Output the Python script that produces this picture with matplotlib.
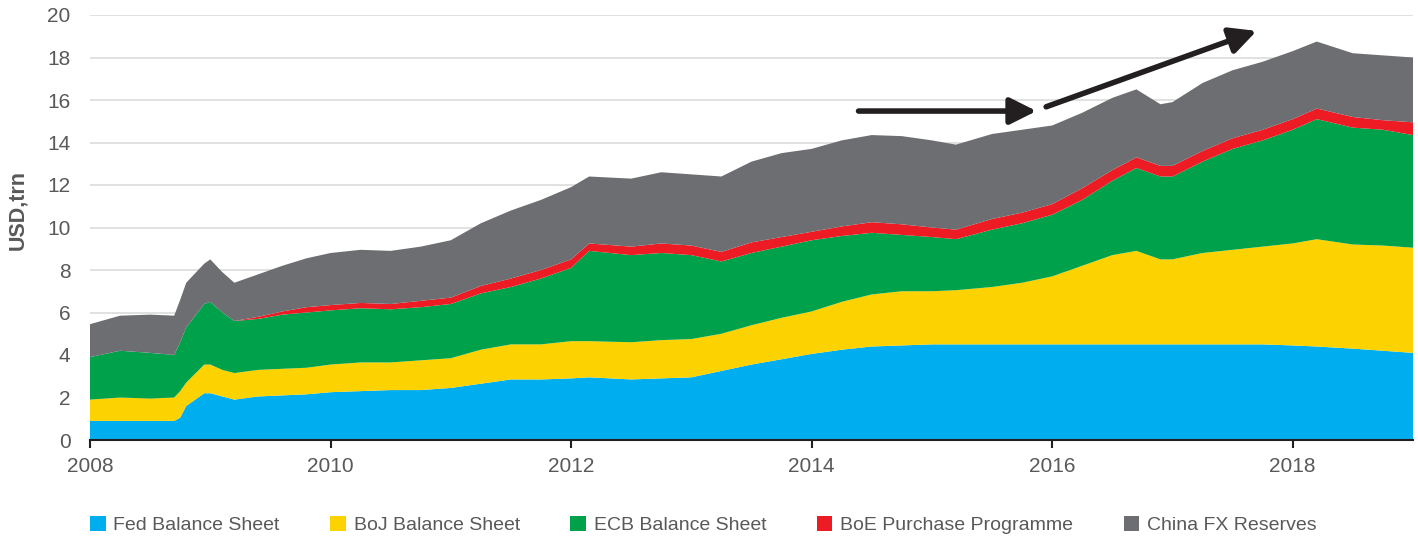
#!/usr/bin/env python

# plot.py - stacked central bank balance sheets + China FX reserves
import matplotlib
matplotlib.use("Agg")
import matplotlib.pyplot as plt
from matplotlib.patches import Patch

plt.rcParams["font.family"] = ["Liberation Sans", "DejaVu Sans"]

# Dates as decimal years, values in USD trn (each series on its own)
years = [2008.00, 2008.25, 2008.50, 2008.70, 2008.75, 2008.80, 2008.95, 2009.00,
         2009.10, 2009.20, 2009.40, 2009.60, 2009.80, 2010.00, 2010.25, 2010.50,
         2010.75, 2011.00, 2011.25, 2011.50, 2011.75, 2012.00, 2012.15, 2012.50,
         2012.75, 2013.00, 2013.25, 2013.50, 2013.75, 2014.00, 2014.25, 2014.50,
         2014.75, 2015.00, 2015.20, 2015.50, 2015.75, 2016.00, 2016.25, 2016.50,
         2016.70, 2016.90, 2017.00, 2017.25, 2017.50, 2017.75, 2018.00, 2018.20,
         2018.50, 2018.75, 2019.00]

fed = [0.90, 0.90, 0.90, 0.90, 1.05, 1.60, 2.20, 2.20,
       2.05, 1.90, 2.05, 2.10, 2.15, 2.25, 2.30, 2.35,
       2.35, 2.45, 2.65, 2.85, 2.85, 2.90, 2.95, 2.85,
       2.90, 2.95, 3.25, 3.55, 3.80, 4.05, 4.25, 4.40,
       4.45, 4.50, 4.50, 4.50, 4.50, 4.50, 4.50, 4.50,
       4.50, 4.50, 4.50, 4.50, 4.50, 4.50, 4.45, 4.40,
       4.30, 4.20, 4.10]

boj = [1.00, 1.10, 1.05, 1.10, 1.25, 1.10, 1.35, 1.35,
       1.25, 1.25, 1.25, 1.25, 1.25, 1.30, 1.35, 1.30,
       1.40, 1.40, 1.60, 1.65, 1.65, 1.75, 1.70, 1.75,
       1.80, 1.80, 1.75, 1.85, 1.95, 2.00, 2.25, 2.45,
       2.55, 2.50, 2.55, 2.70, 2.90, 3.20, 3.70, 4.20,
       4.40, 4.00, 4.00, 4.30, 4.45, 4.60, 4.80, 5.05,
       4.90, 4.95, 4.95]

ecb = [2.00, 2.20, 2.15, 2.00, 2.30, 2.60, 2.85, 2.95,
       2.70, 2.45, 2.40, 2.55, 2.60, 2.55, 2.55, 2.50,
       2.50, 2.55, 2.65, 2.70, 3.10, 3.45, 4.25, 4.10,
       4.10, 3.95, 3.40, 3.40, 3.35, 3.35, 3.10, 2.90,
       2.65, 2.55, 2.40, 2.70, 2.80, 2.90, 3.10, 3.50,
       3.90, 3.90, 3.90, 4.30, 4.75, 5.00, 5.35, 5.65,
       5.50, 5.45, 5.30]

boe = [0.00, 0.00, 0.00, 0.00, 0.00, 0.00, 0.00, 0.00,
       0.00, 0.00, 0.10, 0.15, 0.25, 0.25, 0.25, 0.25,
       0.30, 0.30, 0.35, 0.40, 0.40, 0.40, 0.35, 0.40,
       0.45, 0.45, 0.45, 0.50, 0.45, 0.40, 0.45, 0.50,
       0.50, 0.45, 0.45, 0.50, 0.50, 0.50, 0.55, 0.50,
       0.50, 0.50, 0.50, 0.50, 0.50, 0.50, 0.50, 0.50,
       0.50, 0.45, 0.60]

china = [1.55, 1.65, 1.80, 1.85, 2.00, 2.10, 1.90, 2.00,
         1.90, 1.80, 2.00, 2.15, 2.30, 2.45, 2.50, 2.50,
         2.55, 2.70, 2.95, 3.20, 3.30, 3.40, 3.15, 3.20,
         3.35, 3.35, 3.55, 3.80, 3.95, 3.90, 4.05, 4.10,
         4.15, 4.10, 4.00, 4.00, 3.90, 3.70, 3.55, 3.40,
         3.20, 2.90, 3.00, 3.20, 3.20, 3.20, 3.20, 3.15,
         3.00, 3.05, 3.05]

labels = ["Fed Balance Sheet", "BoJ Balance Sheet", "ECB Balance Sheet",
          "BoE Purchase Programme", "China FX Reserves"]
colors = ["#00aeef", "#fcd200", "#00a14b", "#ed1c24", "#6d6e71"]

# arrow annotations (start, end) in data coords
arrow_flat = ((2014.39, 15.48), (2015.87, 15.48))
arrow_up = ((2015.95, 15.68), (2017.70, 19.25))

TEXT_GREY = "#58595b"


def main():
    fig = plt.figure(figsize=(14.18, 5.38), dpi=100)
    ax = fig.add_axes([90 / 1418, 98 / 538, 1323 / 1418, 425 / 538])

    ax.stackplot(years, fed, boj, ecb, boe, china, colors=colors,
                 labels=labels, linewidth=0, zorder=2)

    ax.set_xlim(2008, 2019)
    ax.set_ylim(0, 20)
    ax.set_yticks(range(0, 21, 2))
    ax.set_xticks(range(2008, 2019, 2))

    ax.yaxis.grid(True, color="#dcdcdc", linewidth=1.2, zorder=1)
    ax.set_axisbelow(True)
    for side in ["left", "right", "top"]:
        ax.spines[side].set_visible(False)
    ax.spines["bottom"].set_color("#231f20")
    ax.spines["bottom"].set_linewidth(1.5)
    ax.spines["bottom"].set_zorder(5)

    ax.tick_params(axis="y", length=0, pad=14, labelsize=15, labelcolor=TEXT_GREY)
    ax.tick_params(axis="x", length=6, width=1.5, color="#231f20", pad=6,
                   labelsize=15, labelcolor=TEXT_GREY)

    ax.set_ylabel("USD,trn", fontsize=15.5, fontweight="bold", color=TEXT_GREY)
    ax.yaxis.set_label_coords(-0.047, 0.54)

    # arrows
    for start, end in (arrow_flat, arrow_up):
        ax.annotate("", xy=end, xytext=start,
                    arrowprops=dict(arrowstyle="-|>,head_length=0.8,head_width=0.4",
                                    mutation_scale=20, lw=4, color="#231f20",
                                    shrinkA=0, shrinkB=0),
                    zorder=6)

    handles = [Patch(facecolor=c, edgecolor="none") for c in colors]
    fig.legend(handles, labels, loc="center left",
               bbox_to_anchor=(90 / 1418, 13 / 538), ncol=5, frameon=False,
               fontsize=14, labelcolor=TEXT_GREY, handlelength=0.8,
               handleheight=0.8, handletextpad=0.4, columnspacing=2.6,
               borderaxespad=0, borderpad=0)

    fig.savefig("out.png", dpi=100)


if __name__ == "__main__":
    main()
